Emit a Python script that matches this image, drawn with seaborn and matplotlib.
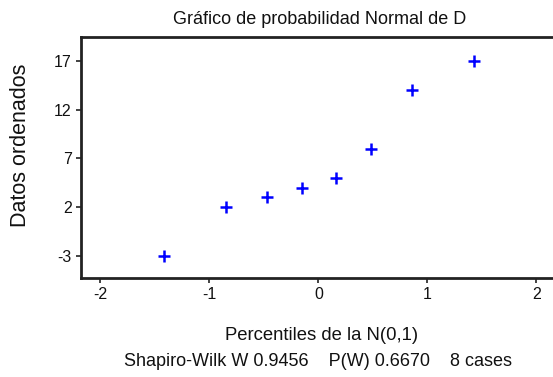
import matplotlib
matplotlib.use("Agg")
import matplotlib.pyplot as plt
import seaborn as sns
import pandas as pd

# Data
percentiles = [-1.42, -0.85, -0.47, -0.15, 0.16, 0.48, 0.86, 1.43]
datos = [-3, 2, 3, 4, 5, 8, 14, 17]
x_ticks = [-2, -1, 0, 1, 2]
y_ticks = [-3, 2, 7, 12, 17]
title = "Gráfico de probabilidad Normal de D"
xlabel = "Percentiles de la N(0,1)"
ylabel = "Datos ordenados"
stats_line = "Shapiro-Wilk W 0.9456    P(W) 0.6670    8 cases"

sns.set_style("ticks")
plt.rcParams['font.family'] = ['Liberation Sans', 'DejaVu Sans']
plt.rcParams['axes.unicode_minus'] = False

W, H = 553, 377
fig = plt.figure(figsize=(W / 100, H / 100), dpi=100)
ax = fig.add_axes([80.7 / W, 1 - 278 / H, (556 - 80.7) / W, (278 - 36.7) / H])

df = pd.DataFrame({"x": percentiles, "y": datos})
sns.scatterplot(data=df, x="x", y="y", marker="+", s=70, color="blue",
                linewidth=1.8, ax=ax, legend=False)

ax.set_xlim(-2.18, 2.18)
ax.set_ylim(-5.3, 19.5)
ax.set_xticks(x_ticks)
ax.set_yticks(y_ticks)
ax.set_xlabel("")
ax.set_ylabel("")
for s in ax.spines.values():
    s.set_linewidth(2)
    s.set_color("#222222")
ax.tick_params(axis="both", length=3.5, width=1.2, color="#222222",
               labelsize=11.5, labelcolor="#111111", pad=3)

fig.text(320 / W, 1 - 20 / H, title, ha="center", va="center", fontsize=13, color="#111111")
fig.text(322 / W, 1 - 336 / H, xlabel, ha="center", va="center", fontsize=13.3, color="#111111")
fig.text(318 / W, 1 - 362 / H, stats_line, ha="center", va="center", fontsize=13, color="#111111")
fig.text(21 / W, 1 - 145 / H, ylabel, ha="center", va="center", rotation=90, fontsize=15.5, color="#111111")

fig.savefig("out.png", dpi=100)
